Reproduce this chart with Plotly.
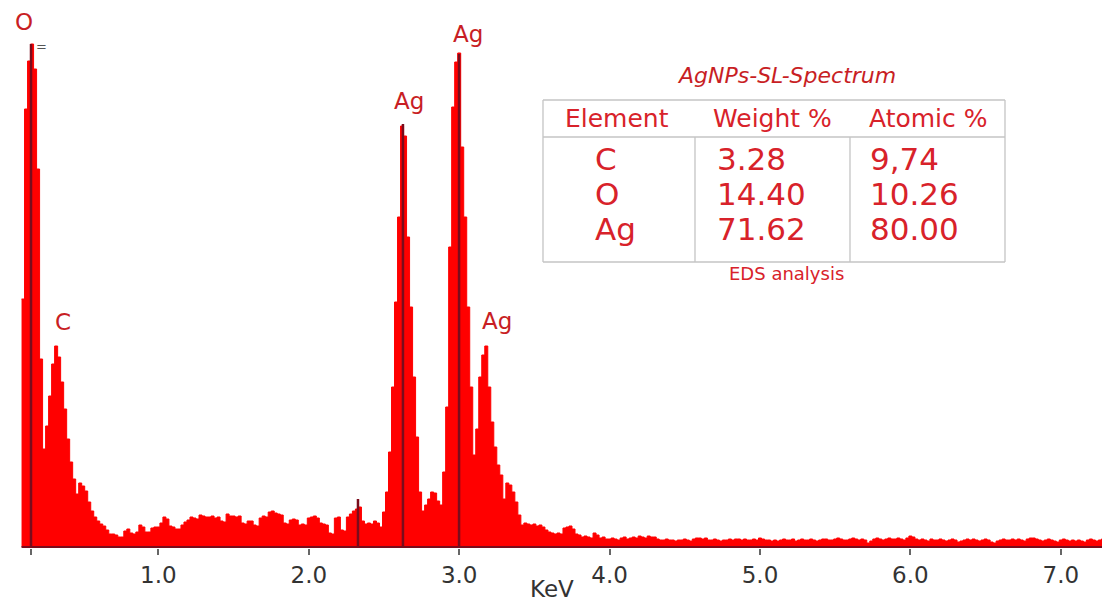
import plotly.graph_objects as go

# ---------------- data ----------------
bin_start_kev = 0.09
bin_width_kev = 0.02

counts = [
    248, 438, 486, 503, 478, 378, 188, 98, 121, 151,
    183, 201, 190, 165, 138, 108, 85, 68, 53, 64,
    61, 56, 45, 36, 30, 26, 23, 21, 17, 13,
    13, 12, 10, 10, 16, 18, 14, 13, 15, 22,
    20, 15, 15, 19, 20, 20, 24, 30, 28, 21,
    20, 18, 18, 22, 25, 27, 30, 29, 28, 32,
    31, 30, 30, 31, 29, 30, 26, 25, 33, 31,
    31, 30, 31, 24, 23, 26, 26, 22, 21, 29,
    31, 30, 35, 36, 34, 33, 32, 24, 23, 27,
    28, 27, 22, 23, 22, 29, 30, 31, 29, 24,
    23, 22, 14, 13, 29, 30, 17, 16, 30, 33,
    36, 38, 40, 26, 23, 24, 23, 26, 24, 20,
    35, 55, 95, 160, 245, 330, 421, 411, 310, 240,
    170, 110, 55, 36, 42, 48, 55, 54, 46, 42,
    75, 140, 300, 440, 485, 494, 400, 330, 240, 160,
    92, 118, 170, 192, 201, 160, 125, 100, 82, 72,
    48, 64, 62, 55, 45, 32, 22, 24, 23, 22,
    23, 21, 22, 20, 17, 15, 14, 13, 14, 13,
    19, 20, 21, 18, 13, 12, 10, 11, 10, 9,
    14, 12, 9, 10, 8, 8, 9, 8, 7, 9,
    10, 8, 9, 10, 9, 11, 10, 9, 11, 10,
    10, 8, 7, 7, 8, 7, 7, 6, 7, 7,
    8, 7, 6, 8, 9, 9, 8, 9, 7, 7,
    8, 7, 6, 7, 7, 8, 7, 8, 8, 7,
    8, 7, 7, 8, 7, 9, 8, 7, 7, 6,
    7, 6, 7, 8, 7, 7, 8, 6, 7, 8,
    7, 7, 8, 7, 6, 7, 8, 8, 7, 7,
    8, 9, 8, 7, 7, 8, 9, 8, 7, 8,
    7, 4, 6, 8, 9, 8, 7, 8, 9, 8,
    8, 9, 8, 7, 9, 11, 10, 8, 7, 8,
    7, 6, 8, 7, 7, 8, 7, 6, 7, 8,
    7, 5, 6, 7, 8, 7, 8, 7, 6, 7,
    8, 7, 5, 4, 6, 7, 8, 7, 7, 8,
    7, 8, 7, 6, 8, 9, 9, 8, 7, 6,
    7, 8, 7, 6, 5, 7, 8, 7, 6, 7,
    6, 7, 6, 5, 7, 8, 7, 6, 7, 8, 8, 7,
]

marker_kev = [0.153, 2.327, 2.626, 2.999]
marker_counts = [503, 48, 423, 493]

peak_labels = ["O", "C", "Ag", "Ag", "Ag"]
peak_label_kev = [0.106, 0.366, 2.666, 3.059, 3.251]
peak_label_counts = [525, 225, 446, 513, 226]

tick_kev = [0.153, 1.0, 2.0, 3.0, 4.0, 5.0, 6.0, 7.0]
tick_text = ["", "1.0", "2.0", "3.0", "4.0", "5.0", "6.0", "7.0"]
x_title = "KeV"

table_title = "AgNPs-SL-Spectrum"
table_caption = "EDS analysis"
table_header = ["Element", "Weight %", "Atomic %"]
elements = ["C", "O", "Ag"]
weight_pct = ["3.28", "14.40", "71.62"]
atomic_pct = ["9,74", "10.26", "80.00"]

# ---------------- layout geometry ----------------
# The page body has an 8px default margin, so the figure sits at (8, 8).
OFF = 8
W, H = 1110 - OFF, 601 - OFF
L, R, T, B = 0, 0, 0, 53
PW, PH = W - L - R, H - T - B          # 1102 x 540
BASE_Y = 548                            # baseline in page pixels
PX_PER_KEV = 150.4
Y_PAD = 1                               # keep the baseline line visible


def px(x):
    """page x -> paper x"""
    return (x - OFF - L) / PW


def py(y):
    """page y -> paper y"""
    return (BASE_Y - y) / PH


FONT = "DejaVu Sans"
RED = "#ff0000"
DARK = "#7a0c1c"
LABEL_RED = "#c81e24"
TABLE_RED = "#d8222a"
GRID = "#c4c4c4"

n = len(counts)
x_edges = [bin_start_kev + bin_width_kev * i for i in range(n + 1)]
y_vals = counts + [counts[-1]]

fig = go.Figure()
fig.add_trace(go.Scatter(
    x=x_edges, y=y_vals, mode="lines",
    line=dict(shape="hv", color=RED, width=1),
    fill="tozeroy", fillcolor=RED, hoverinfo="skip", showlegend=False,
))

mx, my = [], []
for e, c in zip(marker_kev, marker_counts):
    mx += [e, e, None]
    my += [0, c, None]
fig.add_trace(go.Scatter(
    x=mx, y=my, mode="lines", line=dict(color=DARK, width=2.5),
    hoverinfo="skip", showlegend=False,
))

shapes = [
    dict(type="line", xref="x", yref="y", x0=x_edges[0], x1=x_edges[-1],
         y0=0, y1=0, line=dict(color=DARK, width=2)),
]

annotations = []
for lab, e, c in zip(peak_labels, peak_label_kev, peak_label_counts):
    annotations.append(dict(
        x=e, y=c, xref="x", yref="y", text=lab, showarrow=False,
        font=dict(family=FONT, size=23, color=LABEL_RED),
        xanchor="center", yanchor="middle",
    ))
# small glyph near the O peak top
annotations.append(dict(
    x=px(41), y=py(47), xref="paper", yref="paper", text="=", showarrow=False,
    font=dict(family=FONT, size=13, color="#555555"), xanchor="center", yanchor="middle",
))

# axis title
annotations.append(dict(
    x=px(552), y=py(589), xref="paper", yref="paper", text=x_title, showarrow=False,
    font=dict(family=FONT, size=23, color="#333333"), xanchor="center", yanchor="middle",
))

# ---------------- table ----------------
tx0, tx1 = 543, 1005
ty0, ty_h, ty1 = 100, 137, 262
col_div = [695, 850]


def hline(x0, x1, y):
    return dict(type="line", xref="paper", yref="paper", x0=px(x0), x1=px(x1),
                y0=py(y), y1=py(y), line=dict(color=GRID, width=1.3))


def vline(x, y0, y1):
    return dict(type="line", xref="paper", yref="paper", x0=px(x), x1=px(x),
                y0=py(y0), y1=py(y1), line=dict(color=GRID, width=1.3))


shapes += [
    hline(tx0, tx1, ty0), hline(tx0, tx1, ty_h), hline(tx0, tx1, ty1),
    vline(tx0, ty0, ty1), vline(tx1, ty0, ty1),
    vline(col_div[0], ty_h, ty1), vline(col_div[1], ty_h, ty1),
]

annotations.append(dict(
    x=px(786), y=py(75), xref="paper", yref="paper",
    text="<i>" + table_title + "</i>", showarrow=False,
    font=dict(family=FONT, size=22, color=LABEL_RED), xanchor="center", yanchor="middle",
))
annotations.append(dict(
    x=px(786), y=py(273), xref="paper", yref="paper", text=table_caption, showarrow=False,
    font=dict(family=FONT, size=18, color=TABLE_RED), xanchor="center", yanchor="middle",
))

header_x = [617, 772, 928]
for txt, hx in zip(table_header, header_x):
    annotations.append(dict(
        x=px(hx), y=py(118), xref="paper", yref="paper", text=txt, showarrow=False,
        font=dict(family=FONT, size=25, color=TABLE_RED), xanchor="center", yanchor="middle",
    ))

col_left = [593, 715, 868]
row_y = [159, 194, 229]
for col, cx in zip([elements, weight_pct, atomic_pct], col_left):
    for val, ry in zip(col, row_y):
        annotations.append(dict(
            x=px(cx), y=py(ry), xref="paper", yref="paper", text=val, showarrow=False,
            font=dict(family=FONT, size=31, color=TABLE_RED),
            xanchor="left", yanchor="middle",
        ))

fig.update_layout(
    width=W, height=H,
    margin=dict(l=L, r=R, t=T, b=B, pad=0),
    paper_bgcolor="white", plot_bgcolor="white",
    showlegend=False,
    shapes=shapes, annotations=annotations,
    xaxis=dict(
        range=[0, PW / PX_PER_KEV], tickmode="array", tickvals=tick_kev, ticktext=tick_text,
        ticks="outside", ticklen=6, tickwidth=1.5, tickcolor="#666666",
        tickfont=dict(family=FONT, size=23, color="#333333"),
        showgrid=False, zeroline=False, showline=False, fixedrange=True,
    ),
    yaxis=dict(
        range=[-Y_PAD, PH - Y_PAD], visible=False, showgrid=False, zeroline=False,
        fixedrange=True,
    ),
)

fig.write_html("out.html", config={"displayModeBar": False})
